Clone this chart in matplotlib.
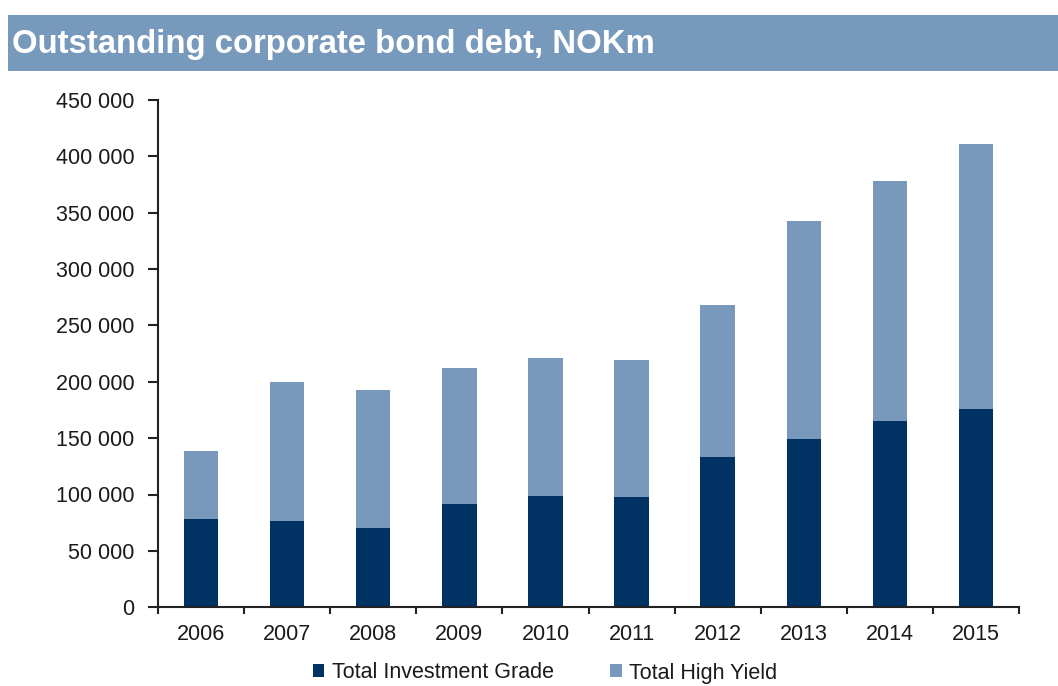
import matplotlib
matplotlib.use("Agg")
import matplotlib.pyplot as plt
from matplotlib.patches import Rectangle
import numpy as np

plt.rcParams['font.family'] = ['Liberation Sans', 'DejaVu Sans']

years = ['2006', '2007', '2008', '2009', '2010', '2011', '2012', '2013', '2014', '2015']
investment_grade = [78300, 76500, 70000, 91800, 98900, 97800, 133200, 149500, 164900, 175800]
high_yield = [60500, 123000, 122600, 120600, 121800, 121400, 134800, 193200, 213000, 234900]
y_ticks = [0, 50000, 100000, 150000, 200000, 250000, 300000, 350000, 400000, 450000]
title = 'Outstanding corporate bond debt, NOKm'
series_names = ['Total Investment Grade', 'Total High Yield']

dark = '#003263'
light = '#7899BC'
text_color = '#1a1a1a'

fig = plt.figure(figsize=(10.58, 6.86), dpi=100)
fig.patch.set_facecolor('white')

# title banner
banner = Rectangle((8 / 1058, 1 - 71 / 686), 1.0, 56 / 686, transform=fig.transFigure,
                   facecolor='#7799BB', edgecolor='none', zorder=0)
fig.patches.append(banner)
fig.text(12 / 1058, 1 - 45 / 686, title, color='white', fontsize=23.7, fontweight='bold',
         va='center', ha='left')

ax = fig.add_axes([158 / 1058, (686 - 607.3) / 686, (1019 - 158) / 1058, (607.3 - 99.7) / 686])
x = np.arange(len(years))
ax.bar(x, investment_grade, width=0.4, color=dark, label=series_names[0])
ax.bar(x, high_yield, width=0.4, bottom=investment_grade, color=light, label=series_names[1])

ax.set_xlim(-0.5, len(years) - 0.5)
ax.set_ylim(0, 450000)
ax.set_yticks(y_ticks)
ax.set_yticklabels([f"{v:,}".replace(',', ' ') for v in y_ticks])

ax.set_xticks(x)
ax.set_xticklabels(years)
ax.set_xticks(np.arange(-0.5, len(years)), minor=True)
ax.tick_params(axis='x', which='major', length=0, pad=12, labelsize=15.5, labelcolor=text_color)
ax.tick_params(axis='x', which='minor', length=5, width=1.5, direction='out', color='#222222')
ax.tick_params(axis='y', length=7, width=1.5, direction='out', pad=10, labelsize=15.5,
               labelcolor=text_color, color='#222222')

for s in ['top', 'right']:
    ax.spines[s].set_visible(False)
for s in ['left', 'bottom']:
    ax.spines[s].set_linewidth(1.5)
    ax.spines[s].set_color('#222222')

leg = fig.legend(loc='center', bbox_to_anchor=(545 / 1058, 1 - 673 / 686), ncol=2,
                 frameon=False, fontsize=15.5, handlelength=0.55, handleheight=0.55,
                 handletextpad=0.35, columnspacing=2.6, borderpad=0.1)
for t in leg.get_texts():
    t.set_color(text_color)

fig.savefig('out.png', dpi=100)
